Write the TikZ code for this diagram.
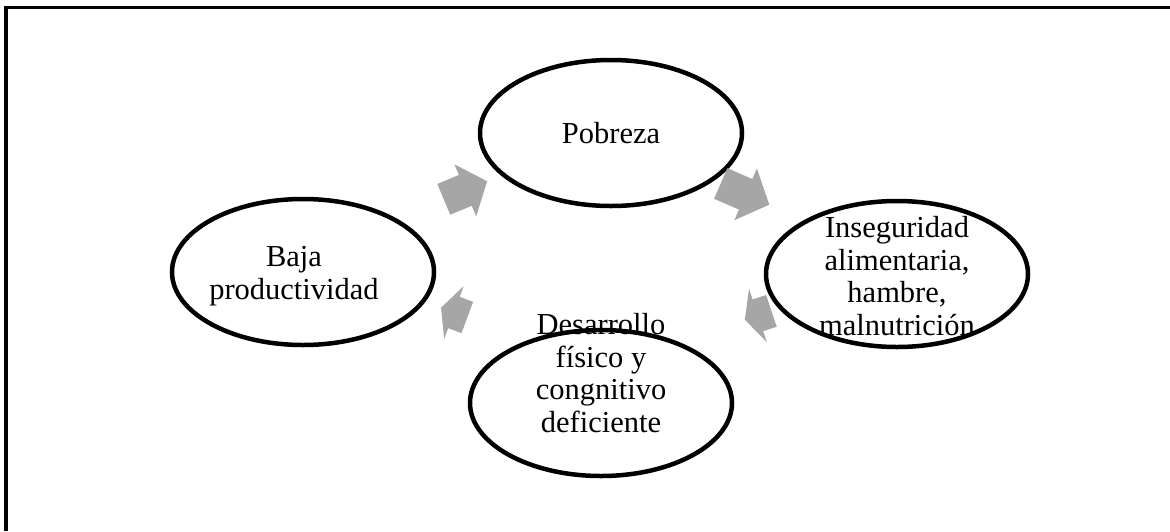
\documentclass[tikz,border=0pt]{standalone}
\usepackage{fontspec}
\setmainfont{Liberation Serif}
\usetikzlibrary{shapes.geometric,shapes.arrows}
\definecolor{arrowgray}{HTML}{A6A6A6}

\begin{document}
\begin{tikzpicture}
         [x=1pt,y=-1pt,
          cyc/.style={ellipse,draw,line width=4.5pt,minimum width=262pt,minimum height=146pt,inner sep=0pt},
          txt/.style={align=center,inner sep=0pt,font=\fontsize{30.5}{32.5}\selectfont},
          blk/.style={single arrow,fill=arrowgray,inner xsep=0pt,inner ysep=16.5pt,single arrow head extend=11.5pt}]
         \useasboundingbox (0,0) rectangle (1170,531);
         \draw[line width=3.5pt] (6,531) -- (6,7.5) -- (1170,7.5);

         \node[cyc] (nPobreza) at (611,133) {};
         \node[cyc] (nInseguridad) at (897,274) {};
         \node[cyc] (nDesarrollo) at (601,403) {};
         \node[cyc] (nBaja) at (303,272) {};

         \node[txt] (tPobreza) at (nPobreza) {Pobreza};
         \node[txt] (tInseguridad) at ([yshift=-2pt]nInseguridad) {Inseguridad\\alimentaria,\\hambre,\\malnutrición};
         \node[txt] (tDesarrollo) at ([yshift=30pt]nDesarrollo) {Desarrollo\\físico y\\congnitivo\\deficiente};
         \node[txt] (tBaja) at ([xshift=-9pt,yshift=-4pt]nBaja) {Baja\\productividad};

         \node[blk,minimum height=47pt,single arrow tip angle=100,rotate=22.7] (aPobreza) at (459,193) {};
         \node[blk,minimum height=53pt,single arrow tip angle=95,rotate=-23.6] (aInseguridad) at (738,191) {};
         \node[blk,minimum height=28pt,single arrow tip angle=128,rotate=198.4] (aDesarrollo) at (762,314) {};
         \node[blk,minimum height=28pt,single arrow tip angle=128,rotate=159.7] (aBaja) at (458,314) {};

     \end{tikzpicture}
\end{document}
